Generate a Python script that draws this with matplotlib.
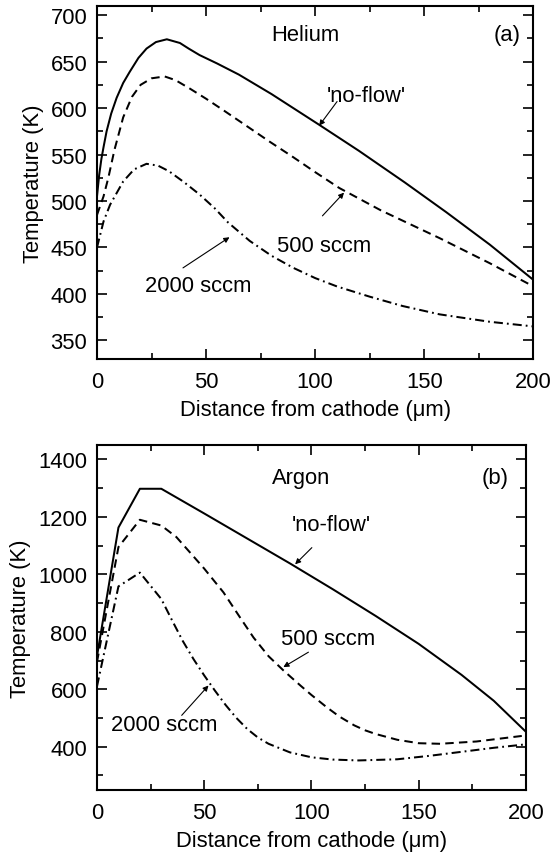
import matplotlib
matplotlib.use("Agg")
import matplotlib.pyplot as plt
from matplotlib.ticker import MultipleLocator

plt.rcParams['font.family'] = ['Liberation Sans', 'DejaVu Sans']
plt.rcParams['font.size'] = 15.8

# ---- Helium (a) ----
he_noflow_x = [0, 1, 2, 3, 4.4, 6.5, 9, 12, 15, 19, 22.7, 27, 32, 38, 42, 47, 55, 65, 80,
               101.8, 120, 141, 160, 180, 200]
he_noflow_T = [505, 528, 545, 558, 575, 594, 611, 627, 639, 654, 664, 671, 674, 670, 664, 657, 648, 636, 615,
               582, 554, 520, 488, 453, 415]

he_500_x = [0, 3, 5.2, 8, 12, 16, 20, 25, 31, 36, 42.5, 50, 57.7, 69, 79, 90, 100, 111, 130, 157, 180, 200]
he_500_T = [485, 505, 525, 555, 590, 612, 625, 632, 634, 630, 621, 610, 598, 580, 564, 547, 531, 514, 490, 460, 433, 408]

he_2000_x = [0, 3, 6, 12, 17, 22.7, 28, 33, 40, 47, 54, 60, 70, 80, 90, 100, 110, 125, 140, 157, 180, 200]
he_2000_T = [450, 478, 496, 521, 534, 540, 538, 532, 520, 507, 492, 477, 457, 441, 428, 417, 408, 397, 387, 378, 370, 365]

# ---- Argon (b) ----
ar_noflow_x = [0, 10, 20, 30, 50, 70, 90, 110, 130, 150, 170, 185, 200]
ar_noflow_T = [715, 1163, 1298, 1298, 1212, 1125, 1038, 948, 855, 758, 650, 560, 452]

ar_500_x = [0, 10, 20, 30, 37, 43.4, 50, 59, 66.7, 73, 80, 87, 95, 100, 107, 113, 120, 125, 130, 140,
            150, 160, 177, 200]
ar_500_T = [695, 1095, 1190, 1170, 1130, 1076, 1020, 937, 850, 780, 715, 665, 612, 580, 538, 505, 474, 457, 444, 424,
            412, 410, 418, 439]

ar_2000_x = [0, 10, 20, 30, 35, 40, 45, 50, 55, 60, 65, 70, 75, 80, 90, 100, 110, 122, 140, 155, 170, 185, 200]
ar_2000_T = [610, 958, 1006, 914, 840, 768, 705, 648, 595, 545, 500, 462, 432, 410, 380, 363, 355, 352, 356, 368, 382, 396, 408]

dash = (0, (4.2, 2.6))
dashdot = (0, (4.5, 2.0, 0.9, 2.0))
lw = 1.45
arrow = dict(arrowstyle='-|>', color='black', lw=0.8, mutation_scale=8, shrinkA=0, shrinkB=0)


def style_axes(ax, ymajor, yminor):
    ax.set_xlim(0, 200)
    ax.xaxis.set_major_locator(MultipleLocator(50))
    ax.xaxis.set_minor_locator(MultipleLocator(25))
    ax.yaxis.set_major_locator(MultipleLocator(ymajor))
    ax.yaxis.set_minor_locator(MultipleLocator(yminor))
    ax.tick_params(which='both', direction='in', top=True, right=True, width=1.2)
    ax.tick_params(which='major', length=7)
    ax.tick_params(which='minor', length=4)
    ax.tick_params(axis='x', which='major', pad=9)
    ax.tick_params(axis='y', which='major', pad=7)
    for s in ax.spines.values():
        s.set_linewidth(1.5)
    ax.set_xlabel('Distance from cathode (\u03bcm)', labelpad=5)
    ax.set_ylabel('Temperature (K)', labelpad=5)


fig = plt.figure(figsize=(5.53, 8.53), dpi=100)

ax1 = fig.add_axes([0.1754, 0.578, 0.7893, 0.414])
ax1.plot(he_noflow_x, he_noflow_T, color='black', lw=lw)
ax1.plot(he_500_x, he_500_T, color='black', lw=lw, ls=dash)
ax1.plot(he_2000_x, he_2000_T, color='black', lw=lw, ls=dashdot)
ax1.set_ylim(330, 710)
style_axes(ax1, 50, 25)
ax1.text(95.4, 679, 'Helium', ha='center', va='center')
ax1.text(188, 679, '(a)', ha='center', va='center')
ax1.text(123.5, 613, "'no-flow'", ha='center', va='center')
ax1.annotate('', xy=(101.8, 581), xytext=(110, 607), arrowprops=arrow)
ax1.text(104, 452, '500 sccm', ha='center', va='center')
ax1.annotate('', xy=(113.2, 509), xytext=(103.3, 484), arrowprops=arrow)
ax1.text(46.6, 409.5, '2000 sccm', ha='center', va='center')
ax1.annotate('', xy=(60.7, 461), xytext=(39.4, 428), arrowprops=arrow)

ax2 = fig.add_axes([0.1754, 0.073, 0.7755, 0.404])
ax2.plot(ar_noflow_x, ar_noflow_T, color='black', lw=lw)
ax2.plot(ar_500_x, ar_500_T, color='black', lw=lw, ls=dash)
ax2.plot(ar_2000_x, ar_2000_T, color='black', lw=lw, ls=dashdot)
ax2.set_ylim(250, 1450)
style_axes(ax2, 200, 100)
ax2.text(95.2, 1337, 'Argon', ha='center', va='center')
ax2.text(185.7, 1337, '(b)', ha='center', va='center')
ax2.text(109.5, 1174, "'no-flow'", ha='center', va='center')
ax2.annotate('', xy=(92.4, 1035), xytext=(100.2, 1093), arrowprops=arrow)
ax2.text(107.9, 775, '500 sccm', ha='center', va='center')
ax2.annotate('', xy=(86.9, 677), xytext=(98.6, 729), arrowprops=arrow)
ax2.text(31.3, 478, '2000 sccm', ha='center', va='center')
ax2.annotate('', xy=(52, 613), xytext=(39.5, 509), arrowprops=arrow)

fig.savefig('out.png', dpi=100)
